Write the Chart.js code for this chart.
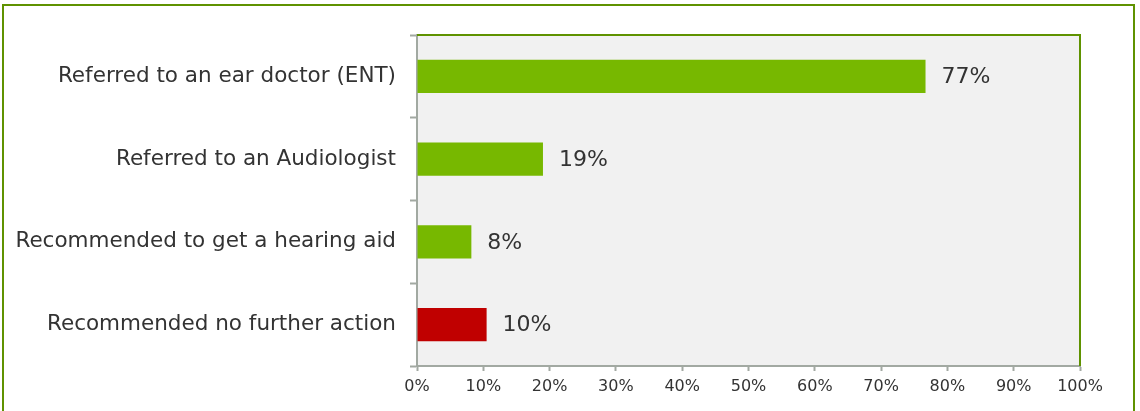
<!DOCTYPE html>
<html>
<head>
<meta charset="utf-8">
<script src="https://cdn.jsdelivr.net/npm/chart.js@4.4.0/dist/chart.umd.min.js"></script>
<style>
    html, body { margin: 0; padding: 0; background: #fff; }
    #wrap { position: relative; width: 1140px; height: 411px; }
    #frame {
        position: absolute; left: 2px; top: 4px; width: 1133px; height: 420px;
        border: 2px solid #5f9200; box-sizing: border-box;
    }
    canvas { position: absolute; left: 0; top: 0; }
</style>
</head>
<body>
<div id="wrap">
    <div id="frame"></div>
    <canvas id="chart" width="1140" height="411"></canvas>
</div>
<script>
// Chart data
const categories = [
    'Referred to an ear doctor (ENT)',
    'Referred to an Audiologist',
    'Recommended to get a hearing aid',
    'Recommended no further action'
];
const values = [76.7, 19.0, 8.2, 10.5];
const valueLabels = ['77%', '19%', '8%', '10%'];
const barColors = ['#77b800', '#77b800', '#77b800', '#c00000'];
const xTicks = [0, 10, 20, 30, 40, 50, 60, 70, 80, 90, 100];

const font = "'DejaVu Sans', Verdana, sans-serif";
const axisGray = '#a2a9a2';
const frameGreen = '#5f9200';

// plot background + green top/right border
const plotFrame = {
    id: 'plotFrame',
    beforeDraw(chart) {
        const { ctx, chartArea: a } = chart;
        ctx.save();
        ctx.fillStyle = '#f1f1f1';
        ctx.fillRect(a.left, a.top, a.right - a.left, a.bottom - a.top);
        ctx.restore();
    },
    afterDraw(chart) {
        const { ctx, chartArea: a } = chart;
        ctx.save();
        ctx.strokeStyle = frameGreen;
        ctx.lineWidth = 2;
        ctx.beginPath();
        ctx.moveTo(a.left, a.top);
        ctx.lineTo(a.right, a.top);
        ctx.lineTo(a.right, a.bottom);
        ctx.stroke();
        ctx.restore();
    }
};

// value labels at bar ends
const barLabels = {
    id: 'barLabels',
    afterDatasetsDraw(chart) {
        const { ctx } = chart;
        const meta = chart.getDatasetMeta(0);
        ctx.save();
        ctx.font = '22px ' + font;
        ctx.fillStyle = '#333333';
        ctx.textBaseline = 'middle';
        ctx.textAlign = 'left';
        meta.data.forEach((bar, i) => {
            ctx.fillText(valueLabels[i], bar.x + 16, bar.y + 1);
        });
        ctx.restore();
    }
};

new Chart(document.getElementById('chart').getContext('2d'), {
    type: 'bar',
    data: {
        labels: categories,
        datasets: [{
            data: values,
            backgroundColor: barColors,
            borderWidth: 0,
            barPercentage: 0.4,
            categoryPercentage: 1
        }]
    },
    options: {
        indexAxis: 'y',
        responsive: false,
        animation: false,
        layout: { padding: { top: 35, right: 60, bottom: 0, left: 0 } },
        plugins: { legend: { display: false }, tooltip: { enabled: false } },
        scales: {
            x: {
                min: 0,
                max: 100,
                afterBuildTicks(scale) { scale.ticks = xTicks.map(v => ({ value: v })); },
                afterFit(scale) { scale.height = 45; },
                ticks: {
                    callback: v => v + '%',
                    color: '#333333',
                    font: { family: font, size: 16 },
                    padding: 6,
                    maxRotation: 0
                },
                grid: { drawOnChartArea: false, color: axisGray, tickLength: 5, tickWidth: 2 },
                border: { color: axisGray, width: 2 }
            },
            y: {
                afterFit(scale) { scale.width = 417; },
                ticks: {
                    color: '#333333',
                    font: { family: font, size: 21.5 },
                    padding: 14
                },
                grid: { drawOnChartArea: false, offset: true, color: axisGray, tickLength: 7, tickWidth: 2 },
                border: { color: axisGray, width: 2 }
            }
        }
    },
    plugins: [plotFrame, barLabels]
});
</script>
</body>
</html>
